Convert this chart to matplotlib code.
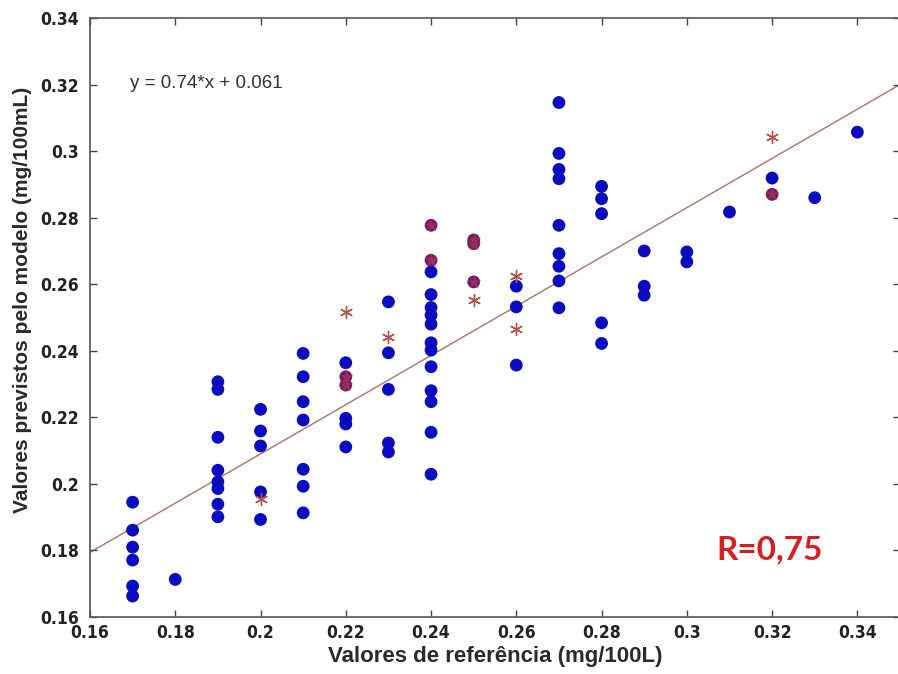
import numpy as np
import matplotlib
matplotlib.use("Agg")
import matplotlib.pyplot as plt

# calibration points (blue dots), grouped by reference value
blue_x = [0.17]*6 + [0.18] + [0.19]*8 + [0.20]*5 + [0.21]*7 + [0.22]*4 + [0.23]*5 \
    + [0.24]*12 + [0.26]*3 + [0.27]*9 + [0.28]*5 + [0.29]*3 + [0.30]*2 \
    + [0.31, 0.32, 0.33, 0.34]
blue_y = [0.1945, 0.1861, 0.1810, 0.1771, 0.1693, 0.1663,
          0.1713,
          0.2307, 0.2284, 0.2140, 0.2041, 0.2006, 0.1986, 0.1939, 0.1901,
          0.2224, 0.2159, 0.2114, 0.1976, 0.1893,
          0.2392, 0.2322, 0.2247, 0.2192, 0.2044, 0.1993, 0.1913,
          0.2364, 0.2197, 0.2180, 0.2111,
          0.2547, 0.2394, 0.2284, 0.2123, 0.2096,
          0.2637, 0.2569, 0.2530, 0.2507, 0.2480, 0.2424, 0.2402, 0.2352,
          0.2280, 0.2247, 0.2155, 0.2029,
          0.2594, 0.2532, 0.2357,
          0.3146, 0.2993, 0.2945, 0.2917, 0.2777, 0.2692, 0.2654, 0.2610, 0.2529,
          0.2894, 0.2857, 0.2812, 0.2484, 0.2422,
          0.2700, 0.2594, 0.2567,
          0.2697, 0.2667,
          0.2817, 0.2919, 0.2860, 0.3057]

# validation points (stars) sitting on top of a dot -> look purple
purple_x = [0.22, 0.22, 0.24, 0.24, 0.25, 0.25, 0.25, 0.32]
purple_y = [0.2322, 0.2297, 0.2777, 0.2672, 0.2733, 0.2722, 0.2607, 0.2870]

# validation points alone (stars)
star_x = [0.20, 0.22, 0.23, 0.25, 0.26, 0.26, 0.32]
star_y = [0.1956, 0.2517, 0.2442, 0.2552, 0.2624, 0.2464, 0.3042]

slope, intercept = 0.74, 0.061
r_text = "R=0,75"
tick_vals = [0.16, 0.18, 0.20, 0.22, 0.24, 0.26, 0.28, 0.30, 0.32, 0.34]
tick_labels = ['0.16', '0.18', '0.2', '0.22', '0.24', '0.26', '0.28', '0.3', '0.32', '0.34']

fig = plt.figure(figsize=(8.98, 6.74), dpi=100)
ax = fig.add_axes([90/898, 1 - 617/674, 810/898, 599/674])

lx = np.array([0.16, 0.35])
ax.plot(lx, slope*lx + intercept, color='#a8736a', lw=1.0, zorder=1)

ax.scatter(blue_x, blue_y, s=85, color='#0b0bc0', edgecolors='none', zorder=2)
ax.scatter(purple_x, purple_y, s=85, color='#7a1a66', edgecolors='none', zorder=3)
ax.scatter(purple_x, purple_y, s=100, marker='*', color='#96305a', linewidths=0, zorder=3)
ax.scatter(star_x, star_y, s=75, marker=(6, 2, 0), color='#b0504a', linewidths=1.0, zorder=4)

ax.set_xlim(0.16, 0.35)
ax.set_ylim(0.16, 0.34)
ax.set_xticks(tick_vals)
ax.set_yticks(tick_vals)
ax.set_xticklabels(tick_labels)
ax.set_yticklabels(tick_labels)
ax.tick_params(direction='in', length=5, width=1, color='#444444',
               top=True, right=True, labelsize=12.5)
ax.tick_params(axis='x', pad=5)
ax.tick_params(axis='y', pad=8)
for lab in ax.get_xticklabels() + ax.get_yticklabels():
    lab.set_family('DejaVu Sans')
    lab.set_stretch('condensed')
    lab.set_fontweight('bold')
    lab.set_color('#222222')
for sp in ax.spines.values():
    sp.set_color('#555555')
    sp.set_linewidth(1.2)

ax.set_xlabel('Valores de referência (mg/100L)', fontsize=16, fontweight='bold',
              family=['Liberation Sans', 'DejaVu Sans'], color='#2a2a2a', labelpad=3)
ax.set_ylabel('Valores previstos pelo modelo (mg/100mL)', fontsize=15, fontweight='bold',
              family=['Liberation Sans', 'DejaVu Sans'], color='#2a2a2a')
ax.yaxis.set_label_coords(-0.072, 0.53)

ax.text(0.1694, 0.3204, 'y = 0.74*x + 0.061', fontsize=13.5,
        family=['Liberation Sans', 'DejaVu Sans'], color='#333333', va='center')
ax.text(0.3195, 0.1801, r_text, fontsize=24, fontweight='bold',
        family=['Lato', 'DejaVu Sans'], color='#d42020', ha='center', va='center')

fig.savefig('out.png', dpi=100)
